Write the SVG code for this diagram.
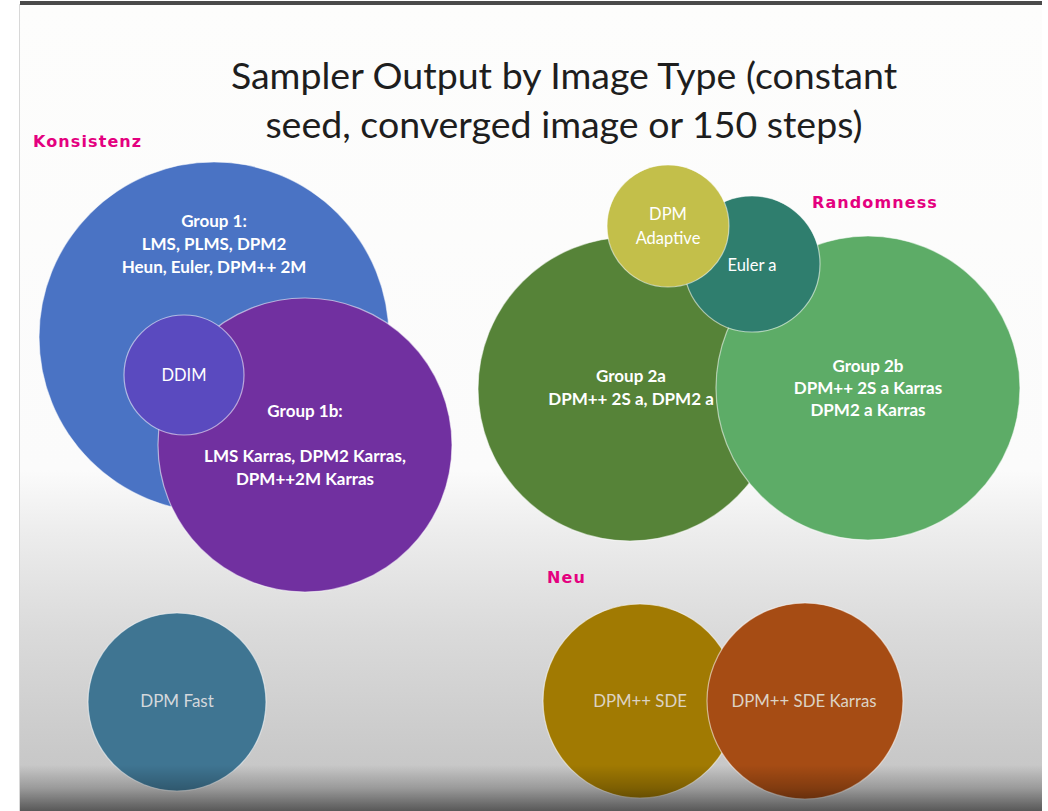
<svg xmlns="http://www.w3.org/2000/svg" width="1048" height="811" viewBox="0 0 1048 811">
  <defs>
    <linearGradient id="slideBg" x1="0" y1="0" x2="0" y2="811" gradientUnits="userSpaceOnUse">
      <stop offset="0" stop-color="#fdfdfc"/>
      <stop offset="0.58" stop-color="#fbfbfb"/>
      <stop offset="0.66" stop-color="#ececec"/>
      <stop offset="0.78" stop-color="#dadada"/>
      <stop offset="0.93" stop-color="#c9c9c9"/>
      <stop offset="1" stop-color="#c4c4c4"/>
    </linearGradient>
    <linearGradient id="bottomShade" x1="0" y1="765" x2="0" y2="811" gradientUnits="userSpaceOnUse">
      <stop offset="0" stop-color="#000" stop-opacity="0"/>
      <stop offset="0.5" stop-color="#000" stop-opacity="0.22"/>
      <stop offset="1" stop-color="#000" stop-opacity="0.55"/>
    </linearGradient>
    <style>
      .bubble { stroke: #ffffff; stroke-opacity: 0.55; stroke-width: 1.2; }
      .lbl { font-family: Lato, "Liberation Sans", sans-serif; font-size: 16.5px; fill: #ffffff; text-anchor: middle; }
      .b { font-weight: bold; font-size: 17px; }
      .dim { fill: #d4d8dc; font-size: 17px; }
      .warm { fill: #ddd3c4; font-size: 16.8px; }
      .tag { font-family: "DejaVu Sans", Verdana, sans-serif; font-weight: bold; font-size: 16px; fill: #e4007f; letter-spacing: 1.1px; }
      .title { font-family: Lato, "Liberation Sans", sans-serif; font-size: 37.5px; fill: #1e1e1e; text-anchor: middle; }
    </style>
  </defs>

  <!-- page and slide frame -->
  <rect x="0" y="0" width="1048" height="811" fill="#ffffff"/>
  <rect x="20" y="4" width="1022" height="807" fill="url(#slideBg)"/>
  <line x1="19.5" y1="4" x2="19.5" y2="811" stroke="#d8d8d8" stroke-width="1"/>
  <rect x="20" y="1" width="1022" height="4" fill="#4a4a4a"/>

  <!-- title -->
  <text class="title" x="564" y="89">Sampler Output by Image Type (constant</text>
  <text class="title" x="564" y="138">seed, converged image or 150 steps)</text>

  <!-- category tags -->
  <text class="tag" x="33" y="147">Konsistenz</text>
  <text class="tag" x="812" y="208">Randomness</text>
  <text class="tag" x="547" y="583">Neu</text>

  <!-- consistent group -->
  <g id="group1">
    <circle class="bubble" cx="214" cy="337" r="175" fill="#4a73c4"/>
    <text class="lbl b" x="214" y="227">Group 1:</text>
    <text class="lbl b" x="214" y="250">LMS, PLMS, DPM2</text>
    <text class="lbl b" x="214" y="273">Heun, Euler, DPM++ 2M</text>
  </g>
  <g id="group1b">
    <circle class="bubble" cx="305" cy="445" r="147" fill="#7130a0"/>
    <text class="lbl b" x="305" y="417">Group 1b:</text>
    <text class="lbl b" x="305" y="462">LMS Karras, DPM2 Karras,</text>
    <text class="lbl b" x="305" y="485">DPM++2M Karras</text>
  </g>
  <g id="ddim">
    <circle class="bubble" cx="184" cy="375" r="60" fill="#5a4abf"/>
    <text class="lbl" x="184" y="381">DDIM</text>
  </g>

  <!-- random group -->
  <g id="group2a">
    <circle class="bubble" cx="630" cy="389" r="152" fill="#568338"/>
    <text class="lbl b" x="631" y="382">Group 2a</text>
    <text class="lbl b" x="631" y="405">DPM++ 2S a, DPM2 a</text>
  </g>
  <g id="group2b">
    <circle class="bubble" cx="868" cy="388" r="152" fill="#5dac67"/>
    <text class="lbl b" x="868" y="372">Group 2b</text>
    <text class="lbl b" x="868" y="394">DPM++ 2S a Karras</text>
    <text class="lbl b" x="868" y="416">DPM2 a Karras</text>
  </g>
  <g id="euler-a">
    <circle class="bubble" cx="752" cy="264" r="68" fill="#2f7e6e"/>
    <text class="lbl" x="752" y="271">Euler a</text>
  </g>
  <g id="dpm-adaptive">
    <circle class="bubble" cx="668" cy="226" r="61" fill="#c3bf4a"/>
    <text class="lbl" x="668" y="220">DPM</text>
    <text class="lbl" x="668" y="244">Adaptive</text>
  </g>

  <!-- standalone and new samplers -->
  <g id="dpm-fast">
    <circle class="bubble" cx="177" cy="702" r="89" fill="#3f7592"/>
    <text class="lbl dim" x="177" y="707">DPM Fast</text>
  </g>
  <g id="dpmpp-sde">
    <circle class="bubble" cx="640" cy="701" r="97" fill="#a17a02"/>
    <text class="lbl warm" x="640" y="707">DPM++ SDE</text>
  </g>
  <g id="dpmpp-sde-karras">
    <circle class="bubble" cx="805" cy="701" r="98" fill="#a64c14"/>
    <text class="lbl warm" x="804" y="707">DPM++ SDE Karras</text>
  </g>

  <!-- no connectors in this chart -->
  <g id="connectors"/>

  <!-- darkening band along the slide's lower edge -->
  <rect x="20" y="765" width="1022" height="46" fill="url(#bottomShade)"/>
</svg>
